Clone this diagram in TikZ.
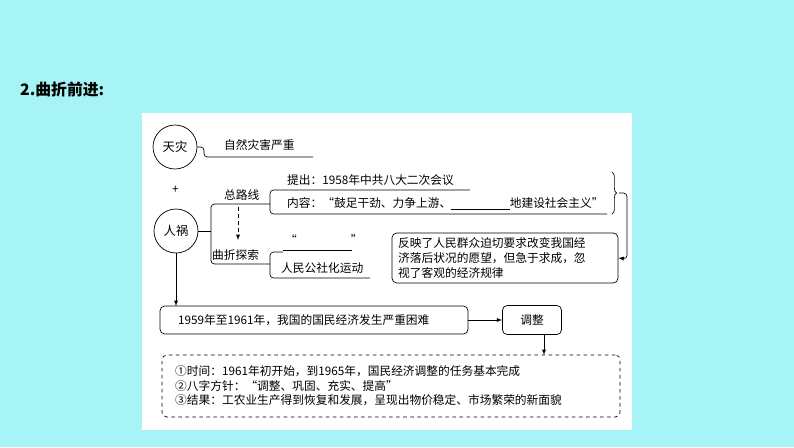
\documentclass[tikz,border=0pt]{standalone}
\usepackage{fontspec}
\setmainfont{Noto Sans CJK SC}
\usetikzlibrary{positioning}
\usetikzlibrary{decorations.pathreplacing}
\definecolor{bgcyan}{RGB}{166,244,246}
\tikzset{
	txt/.style={inner sep=0pt,anchor=west,font=\fontsize{10}{12.5}\selectfont},
	circ/.style={draw,semithick,circle,minimum size=44*0.03cm,inner sep=0pt,font=\fontsize{10.5}{12}\selectfont},
	rbox/.style={draw,semithick,rounded corners=4pt,inner sep=0pt},
	link/.style={semithick,rounded corners=3pt},
	arr/.style={semithick,-latex}
}
\begin{document}
\begin{tikzpicture}[x=0.03cm,y=-0.03cm]
	\fill[bgcyan] (0,0) rectangle (794,447);
	\useasboundingbox (0,0) rectangle (794,447);
	\fill[white] (142,113) rectangle (632,430);
	\node[txt,font=\fontsize{13.5}{15}\selectfont\bfseries] (title) at (20,90) {2.曲折前进:};
	% 天灾 / 人祸
	\node[circ] (tianzai) at (175,147) {天灾};
	\node[txt] (plus) at (172,190) {+};
	\node[circ] (renhuo) at (176,231) {人祸};
	\node[txt] (ziran) at (224,145) {自然灾害严重};
	\draw[link] (tianzai.east) -- (204,147) -- (204,157) -- (313,157);
	% 总路线 / 曲折探索
	\node[txt] (zlx) at (224,195) {总路线};
	\node[txt] (qzts) at (212,255) {曲折探索};
	\draw[link] (renhuo.east) -- (211,231);
	\draw[link] (270,204) -- (211,204) -- (211,264) -- (270,264);
	\draw[semithick,dashed,-latex] (238,207) -- (238,240);
	\node[txt] (tichu) at (287,180) {提出：1958年中共八大二次会议};
	\node[txt] (neirong) at (287,204) {内容：“鼓足干劲、力争上游、\underline{\hspace{5em}}地建设社会主义”};
	\draw[link] (470,190) -- (270,190) -- (270,214) -- (607,214);
	\node[txt] (quote) at (285,240) {“\hspace{4.6em}”};
	\node[txt] (gongshe) at (281,268) {人民公社化运动};
	\draw[link] (352,250) -- (283,250);
	\draw[link] (283,252) -- (270,252) -- (270,278) -- (370,278);
	% 评价
	\draw[semithick,decorate,decoration={brace,amplitude=4pt}] (612,172) -- (612,214);
	\node[rbox,minimum width=226*0.03cm,minimum height=50*0.03cm] (pingjia) at (505,258) {};
	\node[txt,align=left] (pjtext) at (398,258) {反映了人民群众迫切要求改变我国经\\济落后状况的愿望，但急于求成，忽\\视了客观的经济规律};
	\draw[link,-latex] (619,193) -- (627,193) -- (627,259) -- (pingjia.east);
	% 困难 / 调整
	\node[rbox,minimum width=308*0.03cm,minimum height=28*0.03cm] (kunnan) at (314,320) {};
	\node[txt] (kntext) at (178,320) {1959年至1961年，我国的国民经济发生严重困难};
	\node[rbox,minimum width=59*0.03cm,minimum height=29*0.03cm] (tiaozheng) at (532,320) {\fontsize{10}{12}\selectfont 调整};
	\draw[arr] (renhuo.south) -- (176,306);
	\draw[arr] (kunnan.east) -- (tiaozheng.west);
	\node[rbox,dashed,minimum width=458*0.03cm,minimum height=62*0.03cm] (detail) at (391,386) {};
	\draw[arr] (544,334) -- (544,355);
	\node[txt,align=left] (dtext) at (175,386) {①时间：1961年初开始，到1965年，国民经济调整的任务基本完成\\②八字方针：“调整、巩固、充实、提高”\\③结果：工农业生产得到恢复和发展，呈现出物价稳定、市场繁荣的新面貌};
\end{tikzpicture}
\end{document}
